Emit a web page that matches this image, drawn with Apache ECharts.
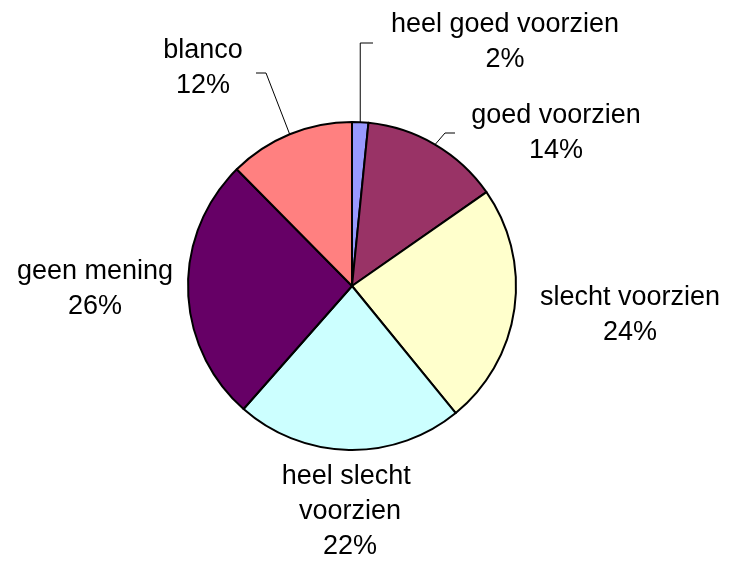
<!DOCTYPE html>
<html>
<head>
<meta charset="utf-8">
<script src="https://cdn.jsdelivr.net/npm/echarts@6/dist/echarts.min.js"></script>
<style>html,body{margin:0;padding:0;background:#fff;}#c{width:729px;height:564px;}</style>
</head>
<body>
<div id="c"></div>
<script>
const categories = ['heel goed voorzien', 'goed voorzien', 'slecht voorzien', 'heel slecht voorzien', 'geen mening', 'blanco'];
const values = [1.6, 13.7, 23.8, 22.4, 26.1, 12.4];
const colors = ['#9999FF', '#993366', '#FFFFCC', '#CCFFFF', '#660066', '#FF8080'];

// label layout (label centres and leader-line bends, in px)
const labelCenters = [[505, 42], [556, 133], [630, 315], [350, 512], [95, 289], [203, 68]];
const leaderBends = {
  0: [[null, 43], [373, 43]],
  1: [[445, 133], [455, 133]],
  5: [[266, 73], [256, 73]]
};
const wrapWidth = {3: 160};

const chart = echarts.init(document.getElementById('c'), null, {renderer: 'canvas'});
chart.setOption({
  animation: false,
  backgroundColor: '#fff',
  series: [{
    type: 'pie',
    center: [352, 286],
    radius: [0, 164],
    startAngle: 90,
    clockwise: true,
    percentPrecision: 0,
    avoidLabelOverlap: false,
    itemStyle: {borderColor: '#000', borderWidth: 2},
    label: {
      show: true,
      position: 'outside',
      formatter: '{b}\n{d}%',
      fontFamily: 'Liberation Sans, Arial, sans-serif',
      fontSize: 27,
      lineHeight: 35,
      color: '#000',
      align: 'center'
    },
    labelLine: {show: true, lineStyle: {color: '#000', width: 1}},
    labelLayout: function (p) {
      const i = p.dataIndex;
      const c = labelCenters[i];
      const out = {x: c[0], y: c[1], align: 'center', verticalAlign: 'middle'};
      if (leaderBends[i] && p.labelLinePoints) {
        const s = p.labelLinePoints[0];
        const b = leaderBends[i];
        const b0 = [b[0][0] === null ? s[0] : b[0][0], b[0][1]];
        out.labelLinePoints = [[s[0], s[1]], b0, b[1].slice()];
      }
      return out;
    },
    data: categories.map(function (name, i) {
      const item = {
        name: name,
        value: values[i],
        itemStyle: {color: colors[i]},
        labelLine: {show: leaderBends[i] !== undefined}
      };
      if (wrapWidth[i]) item.label = {width: wrapWidth[i], overflow: 'break'};
      return item;
    })
  }]
});
</script>
</body>
</html>
